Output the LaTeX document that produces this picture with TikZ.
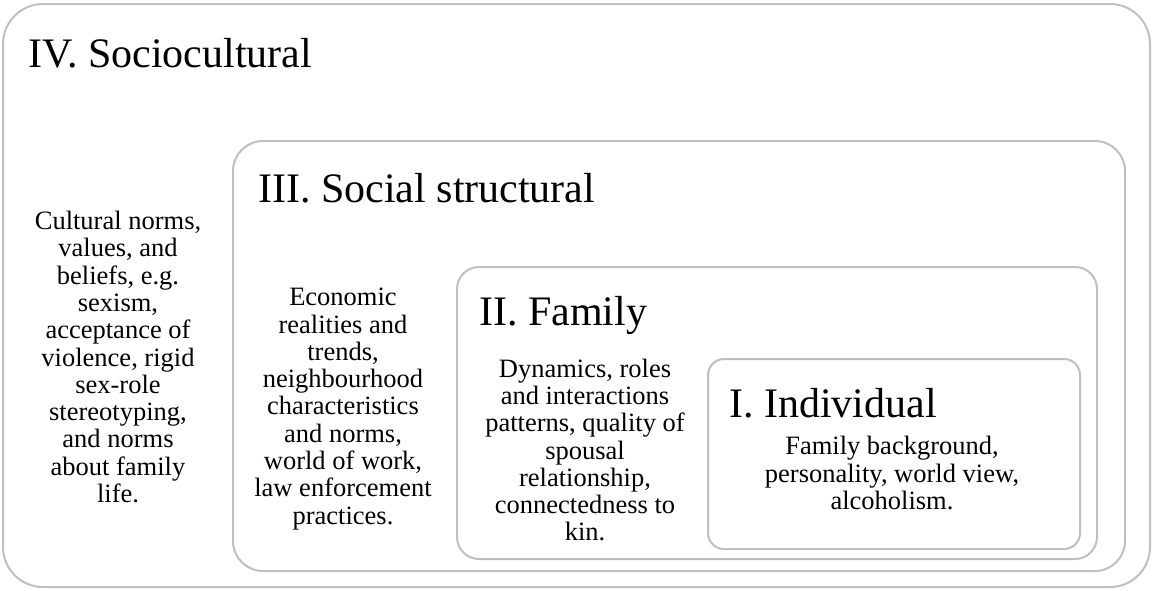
\documentclass[tikz,border=0pt]{standalone}
\usepackage{fontspec}
\setmainfont{Liberation Serif}
\definecolor{ringgray}{HTML}{BFBFBF}

\begin{document}
\begin{tikzpicture}[
  x=1pt, y=-1pt,
  layer/.style={draw=ringgray, line width=2pt},
  title/.style={anchor=base west, inner sep=0pt, font=\fontsize{42}{46}\selectfont},
  body/.style={align=center, inner sep=0pt, font=\fontsize{26.5}{27.3}\selectfont}
]
\useasboundingbox (0,0) rectangle (1153,590);

% nested levels, outermost first
\draw[layer, rounded corners=40pt] (3,4) rectangle (1150,587);
\draw[layer, rounded corners=30pt] (233,141) rectangle (1125,571);
\draw[layer, rounded corners=22pt] (457,267) rectangle (1097,559);
\draw[layer, rounded corners=16pt] (708,359) rectangle (1080,549);

% level headings
\node[title] (socio) at (28,67) {IV. Sociocultural};
\node[title] (struct) at (258,202) {III. Social structural};
\node[title] (family) at (479,325) {II. Family};
\node[title] (indiv) at (729,417) {I. Individual};

% level contents
\node[body] (sociotxt) at (118,357) {Cultural norms,\\values, and\\beliefs, e.g.\\sexism,\\acceptance of\\violence, rigid\\sex-role\\stereotyping,\\and norms\\about family\\life.};
\node[body] (structtxt) at (343,409) {Economic\\realities and\\trends,\\neighbourhood\\characteristics\\and norms,\\world of work,\\law enforcement\\practices.};
\node[body] (familytxt) at (585,450) {Dynamics, roles\\and interactions\\patterns, quality of\\spousal\\relationship,\\connectedness to\\kin.};
\node[body] (indivtxt) at (892,473) {Family background,\\personality, world view,\\alcoholism.};
\end{tikzpicture}
\end{document}
